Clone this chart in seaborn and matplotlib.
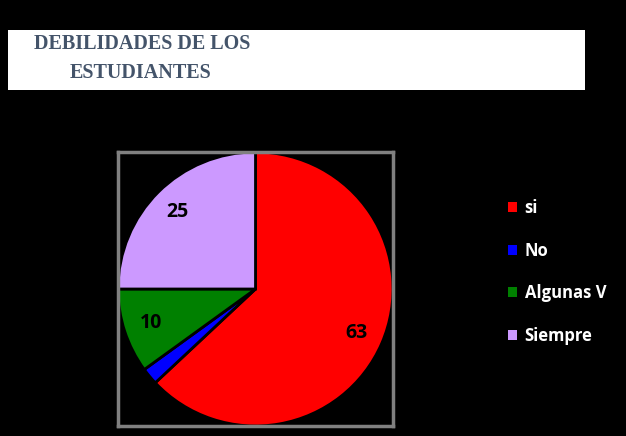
import matplotlib
matplotlib.use("Agg")
import matplotlib.pyplot as plt
from matplotlib.patches import Rectangle, Patch
import seaborn as sns

categories = ["si", "No", "Algunas V", "Siempre"]
values = [63, 2, 10, 25]
shown_labels = ["63", "", "10", "25"]
colors = ["#FF0000", "#0000FF", "#008000", "#CC99FF"]
title_lines = ["DEBILIDADES DE LOS", "ESTUDIANTES"]

sns.set_style("white")
plt.rcParams["font.family"] = ["Open Sans", "DejaVu Sans"]

W, H = 626, 436
fig = plt.figure(figsize=(W / 100, H / 100), dpi=100, facecolor="black")

# white title box
fig.patches.append(Rectangle((8 / W, 1 - 90 / H), (585 - 8) / W, 60 / H,
                             transform=fig.transFigure, facecolor="white",
                             edgecolor="none", zorder=0))
fig.text(142 / W, 1 - 44 / H, title_lines[0], ha="center", va="center",
         fontsize=14.5, fontweight="bold", family="Liberation Serif", color="#44546A")
fig.text(141 / W, 1 - 73 / H, title_lines[1], ha="center", va="center",
         fontsize=14.5, fontweight="bold", family="Liberation Serif", color="#44546A")

ax = fig.add_axes([118 / W, (H - 426) / H, (393 - 118) / W, (426 - 152) / H])
ax.set_facecolor("black")
wedges, texts = ax.pie(values, labels=shown_labels, colors=colors, startangle=90,
                       counterclock=False, radius=1.0, labeldistance=0.8,
                       wedgeprops=dict(edgecolor="black", linewidth=2),
                       textprops=dict(fontsize=14, fontweight="bold", color="black"))
for t in texts:
    t.set_horizontalalignment("center")
    t.set_verticalalignment("center")
ax.set_xlim(-1.0, 1.0)
ax.set_ylim(-1.0, 1.0)
ax.set_aspect("auto")
ax.set_frame_on(True)
ax.set_xticks([])
ax.set_yticks([])
for s in ax.spines.values():
    s.set_visible(True)
    s.set_color("#808080")
    s.set_linewidth(2.5)

handles = [Patch(facecolor=c, edgecolor="none") for c in colors]
leg = fig.legend(handles, categories, loc="upper left",
                 bbox_to_anchor=(493 / W, 1 - 184 / H), frameon=False,
                 handlelength=0.55, handleheight=0.55, handletextpad=0.45,
                 labelspacing=1.48, prop=dict(size=12, weight="bold"))
for t in leg.get_texts():
    t.set_color("white")

fig.savefig("out.png", dpi=100, facecolor="black")
